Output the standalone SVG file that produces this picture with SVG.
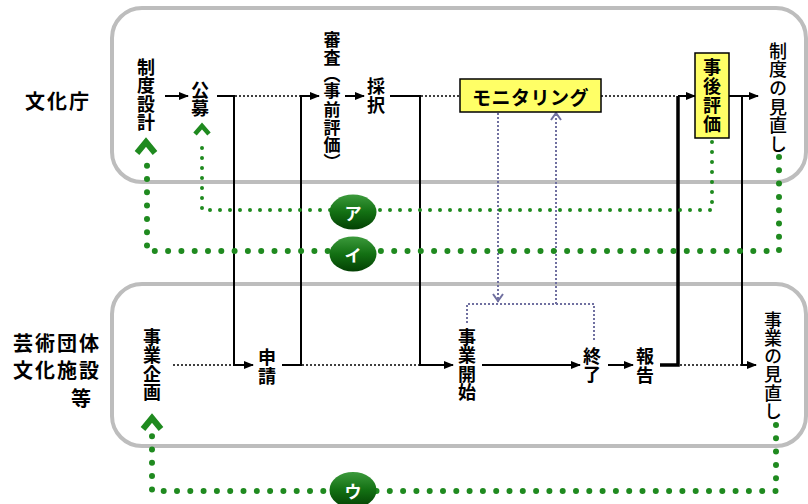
<svg xmlns="http://www.w3.org/2000/svg" width="808" height="504" viewBox="0 0 808 504">
<style>
text{font-family:"Noto Sans CJK JP","Noto Sans CJK SC",sans-serif;fill:#000}
.v{font-size:18px;font-weight:bold;writing-mode:vertical-rl}
.vr{font-size:18px;font-weight:500;writing-mode:vertical-rl}
.lane{font-size:20px;font-weight:bold;dominant-baseline:central;letter-spacing:2px}
.frame{fill:none;stroke:#bdbdbd;stroke-width:4}
.ln{fill:none;stroke:#000;stroke-width:2}
.thick{fill:none;stroke:#000;stroke-width:3.5}
.dot{fill:none;stroke:#000;stroke-width:1.5;stroke-dasharray:2 2}
.mon{fill:none;stroke:#7070a0;stroke-width:2;stroke-dasharray:2 2}
.monh{fill:none;stroke:#7070a0;stroke-width:2}
.g1{fill:none;stroke:#1f8a1f;stroke-width:4;stroke-dasharray:0 10;stroke-linecap:round}
.g2{fill:none;stroke:#1f8a1f;stroke-width:6;stroke-dasharray:0 13.3;stroke-linecap:round}
.chev{fill:none;stroke:#1f8a1f;stroke-linejoin:miter}
.box{fill:#ffff66;stroke:#000;stroke-width:1.5}
.badge{fill:url(#gg)}
.bt{font-size:17px;font-weight:bold;fill:#fff;text-anchor:middle;dominant-baseline:central}
</style>
<defs>
<marker id="ah" markerUnits="userSpaceOnUse" markerWidth="10" markerHeight="10" viewBox="0 0 10 10" refX="9" refY="5" orient="auto">
<path d="M0 1 L10 5 L0 9 Z" fill="#000"/>
</marker>
<linearGradient id="gg" x1="0" y1="0" x2="0" y2="1">
<stop offset="0" stop-color="#3c9a3c"/>
<stop offset="0.5" stop-color="#137013"/>
<stop offset="1" stop-color="#034003"/>
</linearGradient>
</defs>
<rect class="frame" x="112" y="8" width="694" height="174" rx="30"/>
<rect class="frame" x="112" y="284" width="694" height="162" rx="30"/>
<text class="lane" x="25" y="100">文化庁</text>
<text class="lane" x="13" y="342">芸術団体</text>
<text class="lane" x="13" y="369">文化施設</text>
<text class="lane" x="71" y="397">等</text>
<g id="connectors">
<path class="ln" d="M165 96 H188" marker-end="url(#ah)"/>
<path class="ln" d="M217 96 H234 V365 H253" marker-end="url(#ah)"/>
<path class="dot" d="M235 96 H300"/>
<path class="ln" d="M282 365 H301 V96 H319" marker-end="url(#ah)"/>
<path class="dot" d="M302 365 H419"/>
<path class="ln" d="M345 96 H364" marker-end="url(#ah)"/>
<path class="ln" d="M390 96 H420 V365 H453" marker-end="url(#ah)"/>
<path class="dot" d="M421 96 H460"/>
<path class="dot" d="M601 96 H677"/>
<path class="dot" d="M173 365 H233"/>
<path class="ln" d="M482 365 H580" marker-end="url(#ah)"/>
<path class="ln" d="M608 365 H633" marker-end="url(#ah)"/>
<path class="thick" d="M660 365 H678 V96"/>
<path class="ln" d="M678 96 H695" marker-end="url(#ah)"/>
<path class="dot" d="M680 365 H741"/>
<path class="ln" d="M729 96 H758" marker-end="url(#ah)"/>
<path class="ln" d="M742 96 V365 H756" marker-end="url(#ah)"/>
<path class="mon" d="M498 113 V302"/>
<path class="monh" d="M493 294 L498 301 L503 294"/>
<path class="mon" d="M556 304 V115"/>
<path class="monh" d="M551 120 L556 113 L561 120"/>
<path class="mon" d="M467 323 V304 H594 V342"/>
<path class="g1" d="M712 142 V210 H202 V138"/>
<path class="chev" stroke-width="4.5" d="M195 134 L202 126 L209 134"/>
<path class="g2" d="M779 157 V251 H147 V162"/>
<path class="chev" stroke-width="6" d="M137 153 L146 142 L155 153"/>
<path class="g2" d="M776 425 V491 H152 V434"/>
<path class="chev" stroke-width="6" d="M143 429 L152 418 L161 429"/>
</g>
<g id="badge-a"><ellipse class="badge" cx="353" cy="212" rx="23.5" ry="17.5"/><text class="bt" x="353" y="212">ア</text></g>
<g id="badge-i"><ellipse class="badge" cx="353" cy="254" rx="23.5" ry="17.5"/><text class="bt" x="353" y="254">イ</text></g>
<g id="badge-u"><ellipse class="badge" cx="353" cy="490" rx="23.5" ry="18"/><text class="bt" x="353" y="490">ウ</text></g>
<g id="n-seido-sekkei"><text class="v"><tspan x="146" y="58">制</tspan><tspan x="146" y="76.5">度</tspan><tspan x="146" y="95">設</tspan><tspan x="146" y="113.5">計</tspan></text></g>
<g id="n-koubo"><text class="v"><tspan x="200" y="81">公</tspan><tspan x="200" y="99">募</tspan></text></g>
<g id="n-shinsa"><text class="v" style="font-size:17px"><tspan x="332" y="31.5">審</tspan><tspan x="332" y="49">査</tspan><tspan x="332" y="66">（</tspan><tspan x="332" y="82.5">事</tspan><tspan x="332" y="101">前</tspan><tspan x="332" y="119">評</tspan><tspan x="332" y="136.5">価</tspan><tspan x="332" y="153.5">）</tspan></text></g>
<g id="n-saitaku"><text class="v"><tspan x="376" y="77">採</tspan><tspan x="376" y="96">択</tspan></text></g>
<g id="n-monitoring"><rect class="box" x="460" y="79" width="141" height="33"/><text x="530.5" y="96" style="font-size:19px;font-weight:bold;text-anchor:middle;dominant-baseline:central;letter-spacing:0.5px">モニタリング</text></g>
<g id="n-jigo"><rect class="box" x="695" y="53" width="34" height="85"/><text class="v"><tspan x="712" y="58">事</tspan><tspan x="712" y="77">後</tspan><tspan x="712" y="96">評</tspan><tspan x="712" y="115">価</tspan></text></g>
<g id="n-seido-minaoshi"><text class="vr"><tspan x="778" y="42">制</tspan><tspan x="778" y="60.6">度</tspan><tspan x="778" y="79.2">の</tspan><tspan x="778" y="97.8">見</tspan><tspan x="778" y="116.4">直</tspan><tspan x="778" y="135">し</tspan></text></g>
<g id="n-jigyo-kikaku"><text class="v"><tspan x="152" y="328">事</tspan><tspan x="152" y="346.5">業</tspan><tspan x="152" y="365">企</tspan><tspan x="152" y="383.5">画</tspan></text></g>
<g id="n-shinsei"><text class="v"><tspan x="267" y="348">申</tspan><tspan x="267" y="367">請</tspan></text></g>
<g id="n-kaishi"><text class="v"><tspan x="467" y="328">事</tspan><tspan x="467" y="346.5">業</tspan><tspan x="467" y="365">開</tspan><tspan x="467" y="383.5">始</tspan></text></g>
<g id="n-shuryo"><text class="v"><tspan x="592" y="347">終</tspan><tspan x="592" y="365">了</tspan></text></g>
<g id="n-houkoku"><text class="v"><tspan x="645" y="347">報</tspan><tspan x="645" y="366">告</tspan></text></g>
<g id="n-jigyo-minaoshi"><text class="vr"><tspan x="773" y="311">事</tspan><tspan x="773" y="329.2">業</tspan><tspan x="773" y="347.4">の</tspan><tspan x="773" y="365.6">見</tspan><tspan x="773" y="383.8">直</tspan><tspan x="773" y="402">し</tspan></text></g>
</svg>
